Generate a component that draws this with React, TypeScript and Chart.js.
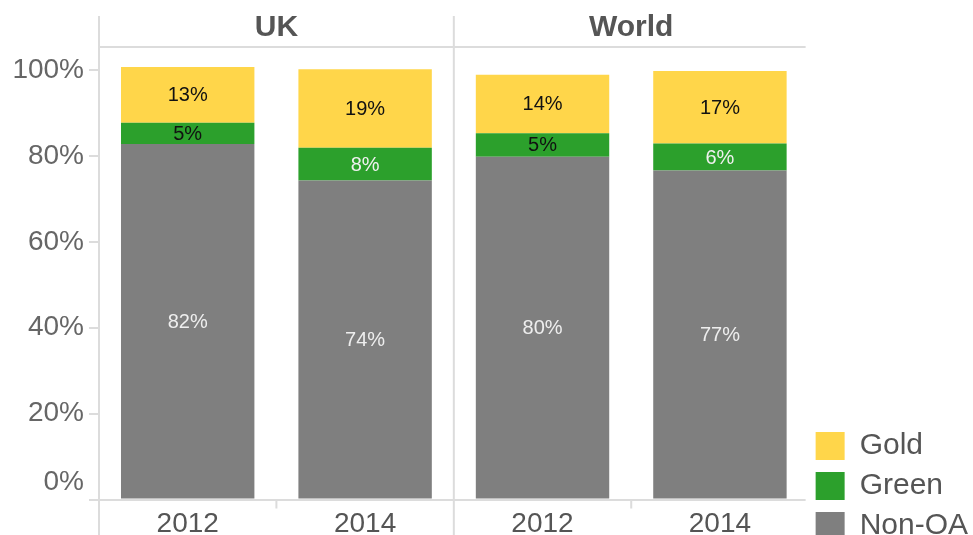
import React, { useEffect, useRef } from 'react';
import { Chart, registerables } from 'chart.js';

Chart.register(...registerables);

// ---- data ----
const categories = ['2012', '2014', '2012', '2014'];
const panels = ['UK', 'World'];
const perPanel = 2;
const nonOA = [82.8, 74.3, 79.8, 76.6];
const green = [4.9, 7.6, 5.5, 6.3];
const gold = [13.0, 18.3, 13.6, 16.9];
const nonOALabels = [82, 74, 80, 77];
const greenLabels = [5, 8, 5, 6];
const goldLabels = [13, 19, 14, 17];
const yTicks = [0, 20, 40, 60, 80, 100];

const FONT = "'Liberation Sans', Arial, Helvetica, sans-serif";
const LINE = '#dcdcdc';

const segLabels = {
  id: 'segLabels',
  afterDatasetsDraw(chart: any) {
    const ctx = chart.ctx;
    ctx.save();
    ctx.font = `20px ${FONT}`;
    ctx.textAlign = 'center';
    ctx.textBaseline = 'middle';
    chart.data.datasets.forEach((ds: any, di: number) => {
      const meta = chart.getDatasetMeta(di);
      meta.data.forEach((el: any, i: number) => {
        const p = el.getProps(['x', 'y', 'base'], true);
        ctx.fillStyle = ds.labelColors[i];
        ctx.fillText(ds.labelText[i] + '%', p.x, (p.y + p.base) / 2 + 1);
      });
    });
    ctx.restore();
  },
};

const frame = {
  id: 'frame',
  beforeDatasetsDraw(chart: any) {
    const { ctx, chartArea, scales } = chart;
    const xs = scales.x;
    const { left, right, top, bottom } = chartArea;
    ctx.save();
    ctx.strokeStyle = LINE;
    ctx.lineWidth = 2;
    ctx.beginPath();
    // header line
    ctx.moveTo(left, top);
    ctx.lineTo(right - 3, top);
    // baseline
    ctx.moveTo(left - 10, bottom + 0.5);
    ctx.lineTo(right - 3, bottom + 0.5);
    // panel separators (full height)
    for (let p = 0; p < panels.length; p++) {
      const sx = p === 0 ? left : xs.getPixelForValue(p * perPanel - 0.5);
      ctx.moveTo(sx, 16);
      ctx.lineTo(sx, chart.height);
    }
    // small ticks between categories inside a panel
    for (let i = 0; i < categories.length - 1; i++) {
      if ((i + 1) % perPanel === 0) continue;
      const tx = xs.getPixelForValue(i + 0.5);
      ctx.moveTo(tx, bottom);
      ctx.lineTo(tx, bottom + 9);
    }
    ctx.stroke();
    // panel headers
    ctx.fillStyle = '#555555';
    ctx.font = `bold 30px ${FONT}`;
    ctx.textAlign = 'center';
    ctx.textBaseline = 'middle';
    panels.forEach((name, p) => {
      const cx = xs.getPixelForValue(p * perPanel + (perPanel - 1) / 2);
      ctx.fillText(name, cx, 28);
    });
    ctx.restore();
  },
};

export default function App() {
  const ref = useRef<HTMLCanvasElement>(null);
  useEffect(() => {
    const chart = new Chart(ref.current as HTMLCanvasElement, {
      type: 'bar',
      data: {
        labels: categories,
        datasets: [
          {
            label: 'Non-OA',
            data: nonOA,
            backgroundColor: '#7f7f7f',
            borderWidth: 0,
            labelText: nonOALabels,
            labelColors: ['#eeeeee', '#eeeeee', '#eeeeee', '#eeeeee'],
          } as any,
          {
            label: 'Green',
            data: green,
            backgroundColor: '#2ca02c',
            borderWidth: 0,
            labelText: greenLabels,
            labelColors: ['#111111', '#f0f0f0', '#111111', '#f0f0f0'],
          } as any,
          {
            label: 'Gold',
            data: gold,
            backgroundColor: '#ffd64a',
            borderWidth: 0,
            labelText: goldLabels,
            labelColors: ['#111111', '#111111', '#111111', '#111111'],
          } as any,
        ],
      },
      options: {
        responsive: false,
        animation: false,
        devicePixelRatio: 1,
        layout: { padding: { top: 47, left: 0, right: 0, bottom: 0 } },
        datasets: {
          bar: { categoryPercentage: 1, barPercentage: 0.752 },
        },
        scales: {
          x: {
            stacked: true,
            grid: { display: false, drawTicks: false, tickLength: 0 },
            border: { display: false },
            ticks: {
              color: '#555555',
              font: { size: 28, family: FONT },
              padding: 8,
              maxRotation: 0,
              autoSkip: false,
            },
            afterFit: (s: any) => {
              s.height = 51.5;
            },
          },
          y: {
            stacked: true,
            min: 0,
            max: 105.36,
            grid: {
              display: true,
              drawOnChartArea: false,
              drawTicks: true,
              tickLength: 10,
              color: LINE,
              lineWidth: 2,
            },
            border: { display: false },
            ticks: {
              color: '#666666',
              font: { size: 28, family: FONT },
              padding: 5,
              // the bottom label sits raised above the baseline, as in the source
              callback: (v: any) => (v === 0 ? [v + '%', ''] : v + '%'),
            },
            afterBuildTicks: (s: any) => {
              s.ticks = yTicks.map((v) => ({ value: v }));
            },
            afterFit: (s: any) => {
              s.width = 99;
            },
          },
        },
        plugins: {
          tooltip: { enabled: false },
          legend: {
            position: 'right',
            align: 'end',
            reverse: true,
            labels: {
              boxWidth: 29,
              boxHeight: 28,
              padding: 7,
              color: '#555555',
              font: { size: 30, family: FONT, lineHeight: 1.1 },
              generateLabels: (c: any) =>
                Chart.defaults.plugins.legend.labels
                  .generateLabels(c)
                  .map((l: any) => ({ ...l, text: [l.text], lineWidth: 0 })),
            },
          },
        },
      },
      plugins: [frame, segLabels],
    } as any);
    return () => chart.destroy();
  }, []);

  return (
    <div
      style={{
        position: 'absolute',
        left: 0,
        top: 0,
        width: 973,
        height: 535,
        overflow: 'hidden',
        background: '#ffffff',
      }}
    >
      <canvas ref={ref} width={978} height={551} style={{ display: 'block' }} />
    </div>
  );
}
